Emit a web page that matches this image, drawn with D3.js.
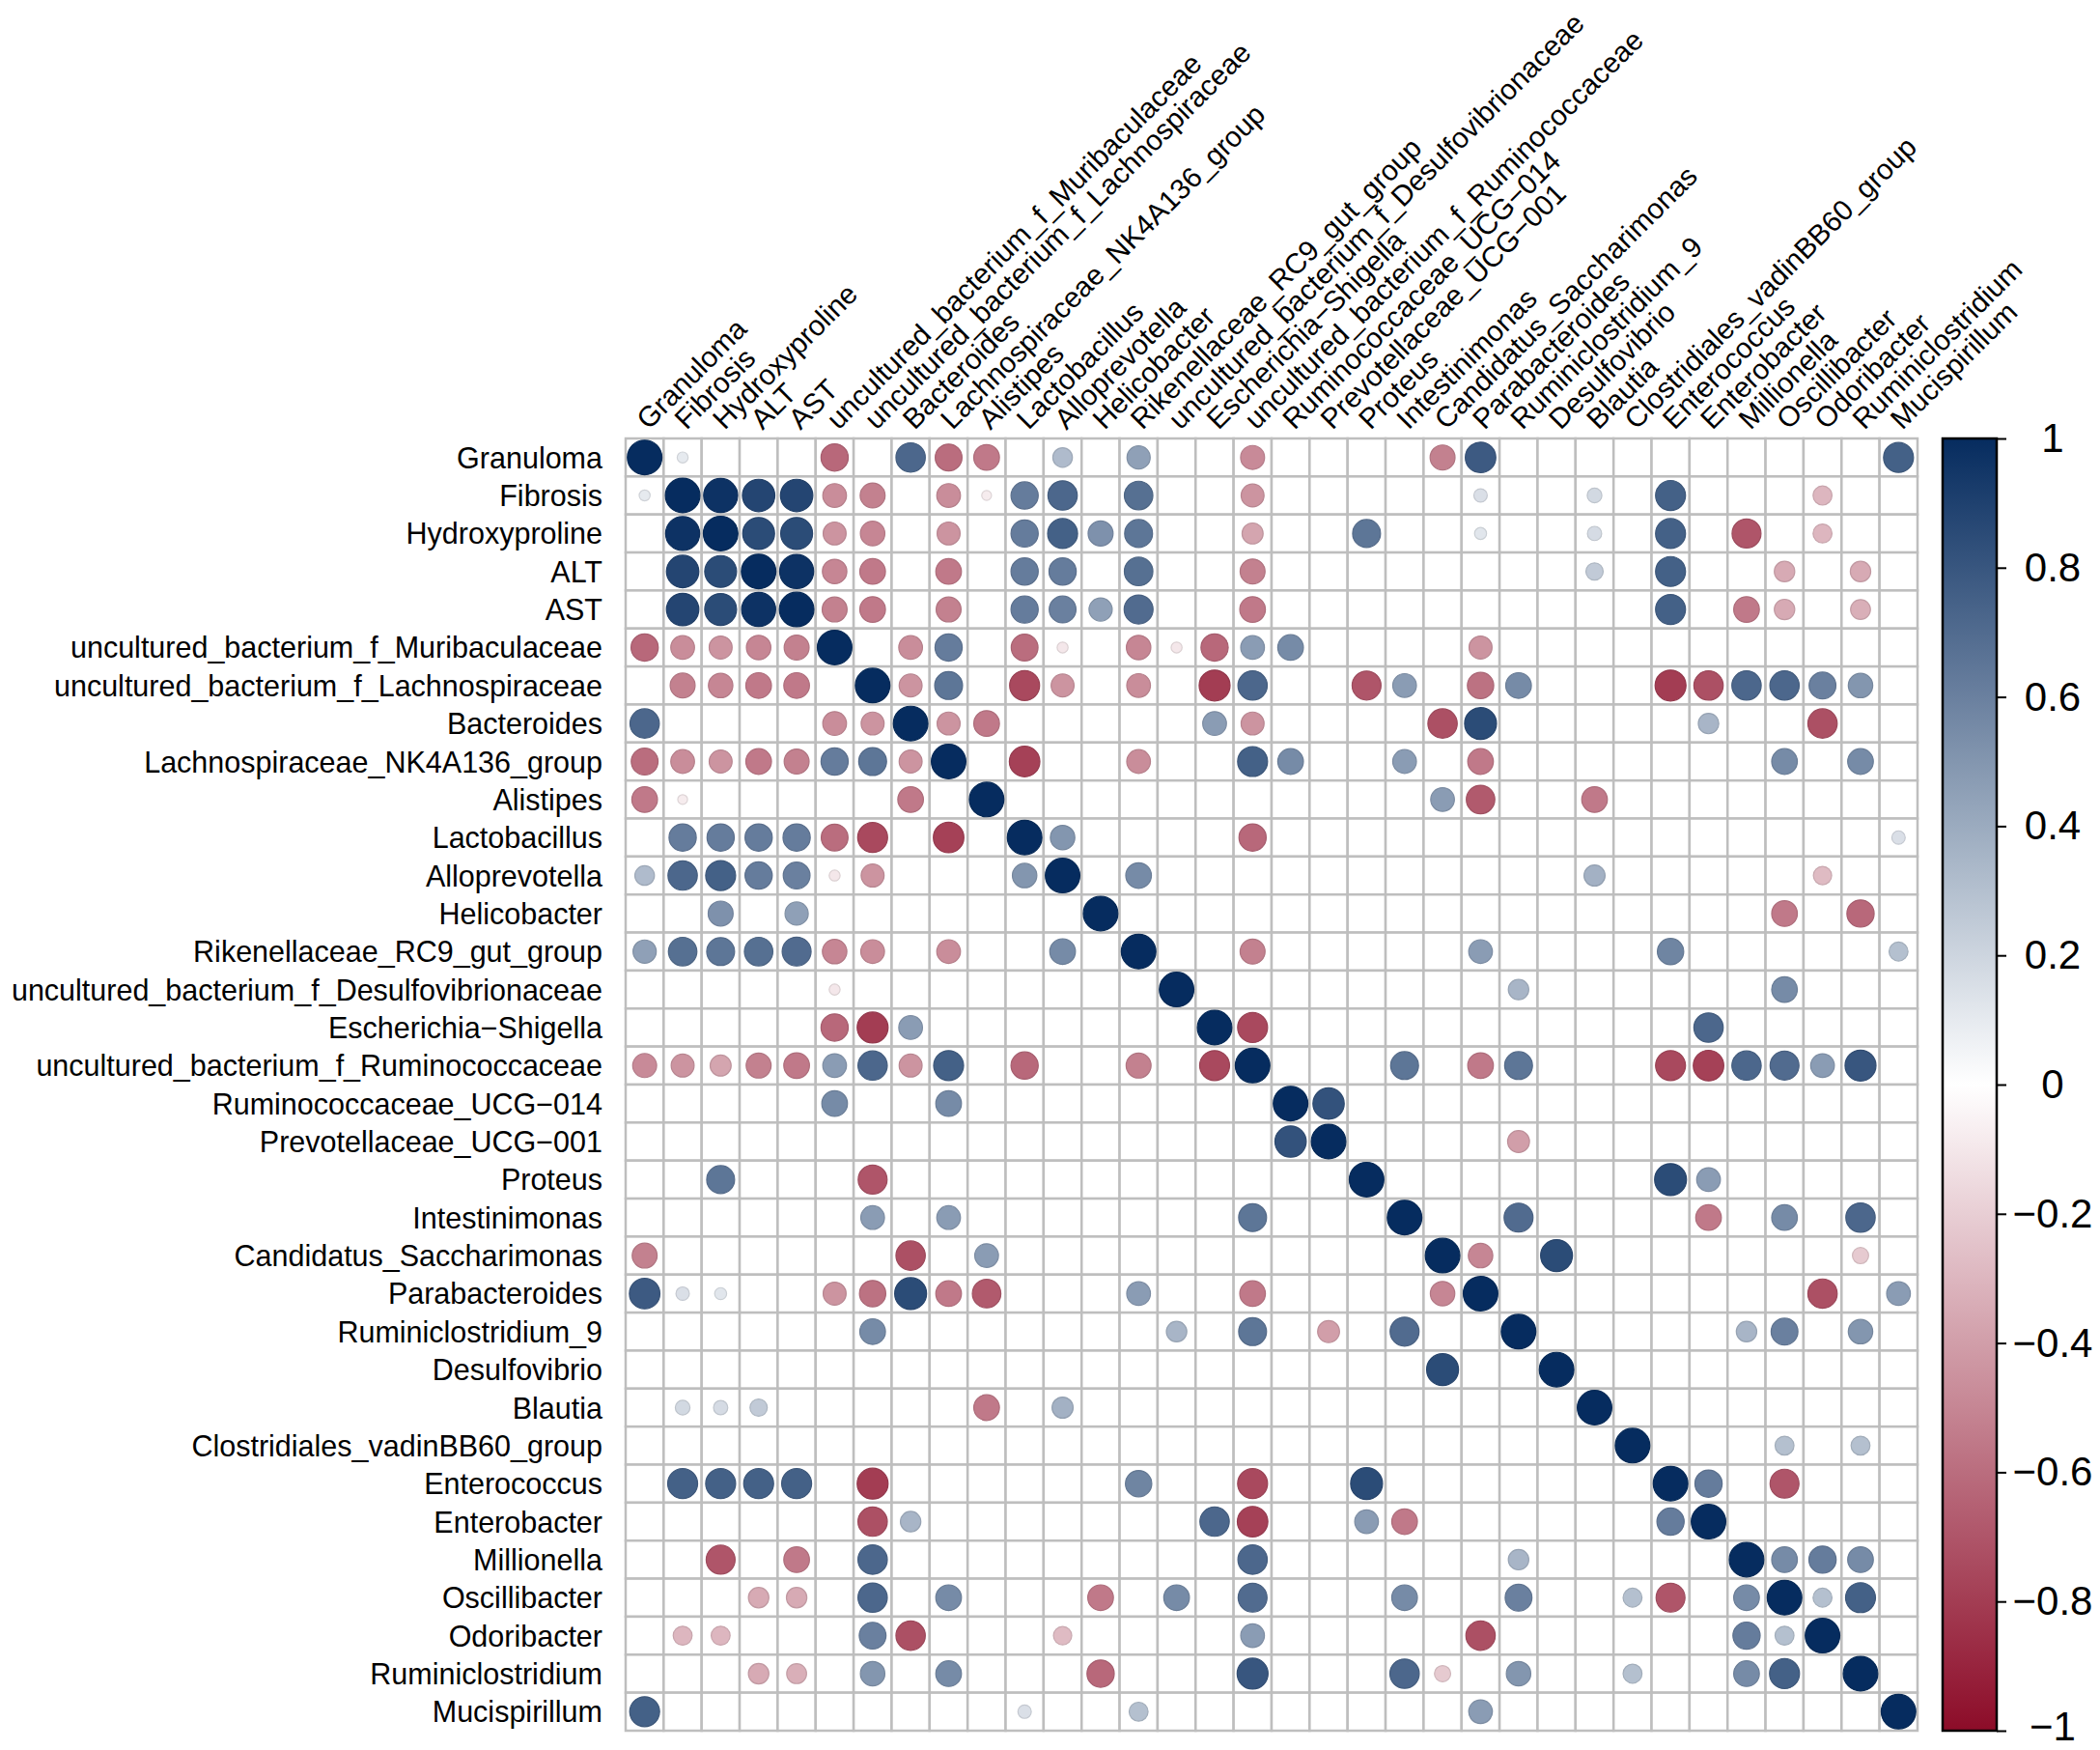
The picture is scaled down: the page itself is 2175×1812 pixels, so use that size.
<html>
<head>
<meta charset="utf-8">
<title>corrplot</title>
<script src="https://d3js.org/d3.v7.min.js"></script>
<style>
  body { margin: 0; background: #fff; }
  text { font-family: 'Liberation Sans', Arial, sans-serif; fill: #000; }
</style>
</head>
<body>
<script>
  // variables, in plot order
  var vars = ["Granuloma", "Fibrosis", "Hydroxyproline", "ALT", "AST",
    "uncultured_bacterium_f_Muribaculaceae", "uncultured_bacterium_f_Lachnospiraceae",
    "Bacteroides", "Lachnospiraceae_NK4A136_group", "Alistipes", "Lactobacillus",
    "Alloprevotella", "Helicobacter", "Rikenellaceae_RC9_gut_group",
    "uncultured_bacterium_f_Desulfovibrionaceae", "Escherichia\u2212Shigella",
    "uncultured_bacterium_f_Ruminococcaceae", "Ruminococcaceae_UCG\u2212014",
    "Prevotellaceae_UCG\u2212001", "Proteus", "Intestinimonas", "Candidatus_Saccharimonas",
    "Parabacteroides", "Ruminiclostridium_9", "Desulfovibrio", "Blautia",
    "Clostridiales_vadinBB60_group", "Enterococcus", "Enterobacter", "Millionella",
    "Oscillibacter", "Odoribacter", "Ruminiclostridium", "Mucispirillum"];

  // significant correlations, upper triangle only: [row, col, r] (1-based)
  var pairs = [
    [1,2,0.1],[1,6,-0.62],[1,8,0.72],[1,9,-0.6],[1,10,-0.55],[1,12,0.32],[1,14,0.45],
    [1,17,-0.48],[1,22,-0.52],[1,23,0.78],[1,34,0.75],
    [2,3,0.97],[2,4,0.88],[2,5,0.88],[2,6,-0.47],[2,7,-0.52],[2,9,-0.47],[2,10,-0.08],
    [2,11,0.62],[2,12,0.72],[2,14,0.68],[2,17,-0.44],[2,23,0.15],[2,26,0.18],[2,28,0.75],[2,32,-0.3],
    [3,4,0.85],[3,5,0.85],[3,6,-0.44],[3,7,-0.5],[3,9,-0.44],[3,11,0.62],[3,12,0.75],[3,13,0.52],
    [3,14,0.65],[3,17,-0.37],[3,20,0.65],[3,23,0.12],[3,26,0.17],[3,28,0.75],[3,30,-0.7],[3,32,-0.3],
    [4,5,0.97],[4,6,-0.5],[4,7,-0.55],[4,9,-0.55],[4,11,0.62],[4,12,0.62],[4,14,0.68],[4,17,-0.52],
    [4,26,0.25],[4,28,0.75],[4,31,-0.35],[4,33,-0.35],
    [5,6,-0.52],[5,7,-0.55],[5,9,-0.52],[5,11,0.62],[5,12,0.6],[5,13,0.45],[5,14,0.7],[5,17,-0.55],
    [5,28,0.75],[5,30,-0.55],[5,31,-0.35],[5,33,-0.33],
    [6,8,-0.47],[6,9,0.62],[6,11,-0.6],[6,12,-0.1],[6,14,-0.5],[6,15,-0.1],[6,16,-0.62],[6,17,0.47],
    [6,18,0.55],[6,23,-0.44],
    [7,8,-0.44],[7,9,0.65],[7,11,-0.75],[7,12,-0.44],[7,14,-0.47],[7,16,-0.8],[7,17,0.72],[7,20,-0.7],
    [7,21,0.47],[7,23,-0.58],[7,24,0.55],[7,28,-0.8],[7,29,-0.72],[7,30,0.72],[7,31,0.72],[7,32,0.6],[7,33,0.5],
    [8,9,-0.44],[8,10,-0.55],[8,16,0.47],[8,17,-0.44],[8,22,-0.72],[8,23,0.85],[8,29,0.35],[8,32,-0.72],
    [9,11,-0.78],[9,14,-0.47],[9,17,0.75],[9,18,0.55],[9,21,0.47],[9,23,-0.55],[9,31,0.55],[9,33,0.55],
    [10,22,0.47],[10,23,-0.68],[10,26,-0.55],
    [11,12,0.5],[11,17,-0.62],[11,34,0.15],
    [12,14,0.55],[12,26,0.37],[12,32,-0.28],
    [13,31,-0.55],[13,33,-0.62],
    [14,17,-0.52],[14,23,0.47],[14,28,0.58],[14,34,0.3],
    [15,24,0.35],[15,31,0.55],
    [16,17,-0.75],[16,29,0.72],
    [17,21,0.65],[17,23,-0.55],[17,24,0.65],[17,28,-0.75],[17,29,-0.78],[17,30,0.72],[17,31,0.7],
    [17,32,0.47],[17,33,0.8],
    [18,19,0.82],
    [19,24,-0.4],
    [20,28,0.85],[20,29,0.47],
    [21,24,0.7],[21,29,-0.55],[21,31,0.55],[21,33,0.72],
    [22,23,-0.5],[22,25,0.85],[22,33,-0.22],
    [23,32,-0.72],[23,34,0.47],
    [24,30,0.35],[24,31,0.6],[24,33,0.5],
    [27,31,0.3],[27,33,0.3],
    [28,29,0.62],[28,31,-0.7],
    [30,31,0.55],[30,32,0.62],[30,33,0.55],
    [31,32,0.3],[31,33,0.75]
  ];

  var cbTicks = [1, 0.8, 0.6, 0.4, 0.2, 0, -0.2, -0.4, -0.6, -0.8, -1];

  var width = 2175, height = 1812;
  var gridLeft = 648, gridTop = 454, gridSize = 1338;

  var svg = d3.select("body").append("svg")
    .attr("width", width)
    .attr("height", height);

  var x = d3.scaleBand().domain(vars).range([gridLeft, gridLeft + gridSize]);
  var y = d3.scaleBand().domain(vars).range([gridTop, gridTop + gridSize]);
  var bw = x.bandwidth();
  var color = d3.scaleLinear().domain([-1, 0, 1]).range(["#8c0c28", "#ffffff", "#062c5f"]);
  var radius = d3.scaleSqrt().domain([0, 1]).range([0, bw * 0.455]);

  // full symmetric matrix
  var cells = vars.map(function(v) { return { row: v, col: v, r: 1 }; });
  pairs.forEach(function(p) {
    cells.push({ row: vars[p[0] - 1], col: vars[p[1] - 1], r: p[2] });
    cells.push({ row: vars[p[1] - 1], col: vars[p[0] - 1], r: p[2] });
  });

  // grid
  var grid = [];
  vars.forEach(function(rv) { vars.forEach(function(cv) { grid.push([rv, cv]); }); });
  svg.append("g").selectAll("rect")
    .data(grid)
    .enter().append("rect")
    .attr("x", function(d) { return x(d[1]); })
    .attr("y", function(d) { return y(d[0]); })
    .attr("width", bw)
    .attr("height", bw)
    .attr("fill", "#fff")
    .attr("stroke", "#bebebe")
    .attr("stroke-width", 2.5);

  svg.append("g").selectAll("circle")
    .data(cells)
    .enter().append("circle")
    .attr("cx", function(d) { return x(d.col) + bw / 2; })
    .attr("cy", function(d) { return y(d.row) + bw / 2; })
    .attr("r", function(d) { return radius(Math.abs(d.r)); })
    .attr("fill", function(d) { return color(d.r); })
    .attr("stroke", function(d) { return d3.color(color(d.r)).darker(0.3); })
    .attr("stroke-width", 1.2);

  // row labels
  svg.append("g").selectAll("text")
    .data(vars)
    .enter().append("text")
    .attr("x", gridLeft - 24)
    .attr("y", function(d) { return y(d) + bw / 2; })
    .attr("text-anchor", "end")
    .attr("dominant-baseline", "central")
    .attr("font-size", 30.5)
    .text(function(d) { return d; });

  // column labels
  svg.append("g").selectAll("text")
    .data(vars)
    .enter().append("text")
    .attr("transform", function(d) {
      return "translate(" + (x(d) + bw / 2 + 4) + "," + (gridTop - 8) + ") rotate(-45)";
    })
    .attr("text-anchor", "start")
    .attr("font-size", 29.6)
    .text(function(d) { return d; });

  // colour bar
  var cbX = 2012, cbW = 56;
  var cbY = d3.scaleLinear().domain([-1, 1]).range([gridTop + gridSize, gridTop]);
  var grad = svg.append("defs").append("linearGradient")
    .attr("id", "cbgrad")
    .attr("x1", "0%").attr("y1", "100%")
    .attr("x2", "0%").attr("y2", "0%");
  d3.range(-1, 1.0001, 0.1).forEach(function(v) {
    grad.append("stop")
      .attr("offset", ((v + 1) / 2 * 100) + "%")
      .attr("stop-color", color(v));
  });
  svg.append("rect")
    .attr("x", cbX)
    .attr("y", gridTop)
    .attr("width", cbW)
    .attr("height", gridSize)
    .attr("fill", "url(#cbgrad)")
    .attr("stroke", "#000")
    .attr("stroke-width", 2.5);

  var cbAxis = svg.append("g")
    .attr("transform", "translate(" + (cbX + cbW) + ",0)")
    .call(d3.axisRight(cbY).tickValues(cbTicks).tickSize(10)
      .tickFormat(function(d) { return d === 0 ? "0" : d3.format("~g")(d); }));
  cbAxis.select(".domain").remove();
  cbAxis.selectAll(".tick line").attr("stroke", "#000").attr("stroke-width", 2);
  cbAxis.selectAll(".tick text")
    .attr("x", 2126 - cbX - cbW)
    .attr("dy", function(d) { return d === -1 ? "0.22em" : "0.32em"; })
    .attr("text-anchor", "middle")
    .attr("font-size", 42)
    .attr("font-family", "'Liberation Sans', Arial, sans-serif")
    .attr("fill", "#000");
</script>
</body>
</html>
